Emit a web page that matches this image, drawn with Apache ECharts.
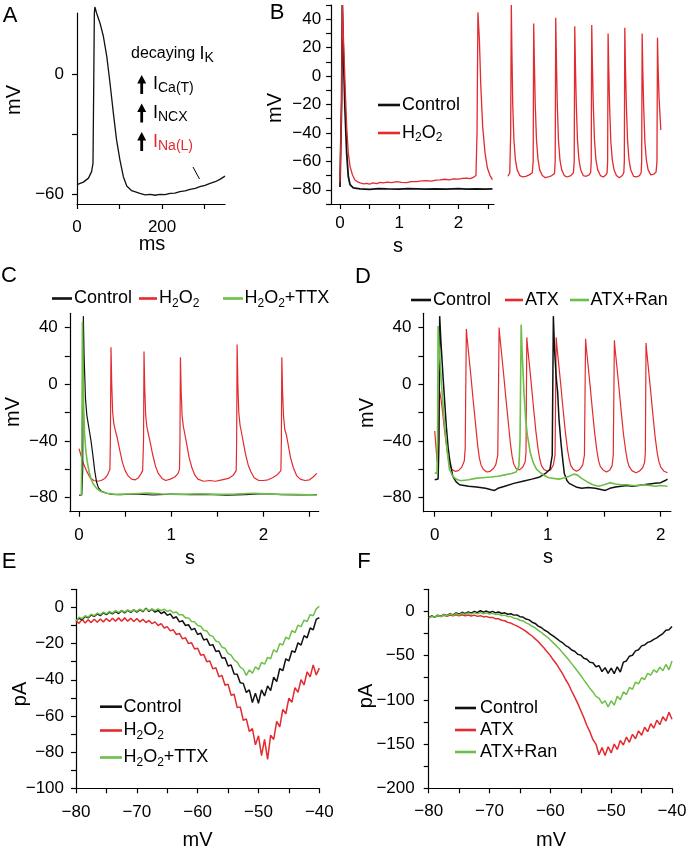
<!DOCTYPE html>
<html><head><meta charset="utf-8">
<script src="https://cdn.jsdelivr.net/npm/echarts@6/dist/echarts.min.js"></script>
<style>html,body{margin:0;padding:0;background:#fff}#c{width:686px;height:853px}</style>
</head><body><div id="c"></div>
<script>
// ---------- Panel A (ms, mV) ----------
const aTrace = [[0,-55.3],[15,-54],[27,-52],[34.5,-48.6],[37.6,-44.5],[39,-12.6],[40.8,31],[42,34],[46,31],[54,26],[62,19.3],[70,9.2],[77.6,-4.2],[85.5,-19.3],[93,-32.8],[101,-42.9],[109,-51.3],[117,-56],[128.6,-58.3],[148,-59.7],[160,-60.4],[172,-60.2],[184,-60.6],[195,-60.2],[207,-60.3],[219,-59.7],[230,-59.5],[242,-58.8],[254,-58.4],[266,-57.6],[278,-57.1],[289,-56.3],[301,-55.6],[313,-54.6],[325,-53.8],[336,-52.6],[348,-51]];
const aXLabels = [0,200], aXTicks = [0,100,200,300];
const aYLabels = [-60,0], aYTicks = [-60,-30,0];

// ---------- Panel B (s, mV) ----------
const bCtrl = [[0,-78],[0.017,-77.6],[0.028,-16.6],[0.04,50],[0.056,18.5],[0.085,-23.7],[0.113,-54],[0.14,-70.5],[0.17,-76.4],[0.225,-78.7],[0.34,-79.4],[0.5,-79.7],[0.65,-79.2],[0.8,-79.4],[1.0,-79.6],[1.15,-79.2],[1.3,-79.3],[1.45,-79.6],[1.6,-79.3],[1.8,-79.5],[2.0,-79.2],[2.15,-79.5],[2.3,-79.3],[2.45,-79.6],[2.575,-79.4]];
const bH2O2 = [[0,-74.8],[0.017,-74],[0.028,-16.6],[0.04,50],[0.056,30],[0.085,-5],[0.113,-35.4],[0.14,-54],[0.17,-63.5],[0.21,-69.4],[0.25,-72.9],[0.3,-74.5],[0.34,-75.2],[0.4,-75.9],[0.45,-75.5],[0.5,-76],[0.56,-75.2],[0.62,-75.6],[0.68,-74.8],[0.73,-75.2],[0.8,-74.6],[0.87,-75],[0.96,-74.2],[1.04,-74.8],[1.13,-74.9],[1.2,-74.3],[1.3,-74.2],[1.38,-73.8],[1.46,-73.6],[1.55,-73.9],[1.62,-73.2],[1.69,-73],[1.77,-72.6],[1.85,-73],[1.92,-72.4],[2.0,-72.5],[2.07,-72],[2.14,-71.8],[2.2,-72.1],[2.25,-71.3],[2.297,-70],[2.315,-40],[2.33,44.8],[2.355,25.5],[2.377,-5],[2.41,-35.4],[2.45,-54],[2.49,-64.7],[2.535,-70],[2.575,-72.9]];
// continuation of the H2O2 recording (local time, s)
const bCont = [[0,-70.5],[0.03,-68],[0.045,-40],[0.056,50],[0.065,20],[0.08,-20],[0.1,-45],[0.125,-59],[0.155,-66],[0.2,-70],[0.25,-71],[0.3,-70.5],[0.36,-69.5],[0.41,-68],[0.425,-60],[0.434,37],[0.445,10],[0.46,-20],[0.48,-44],[0.505,-58],[0.535,-66],[0.58,-70],[0.63,-71.5],[0.68,-71],[0.74,-70],[0.785,-68.5],[0.797,-60],[0.806,41],[0.817,12],[0.832,-20],[0.852,-45],[0.877,-59],[0.907,-66],[0.95,-70],[1.0,-71],[1.06,-70],[1.105,-68],[1.118,-60],[1.127,35],[1.138,8],[1.153,-20],[1.173,-45],[1.198,-59],[1.228,-66],[1.27,-70],[1.32,-70.5],[1.37,-69.5],[1.395,-68],[1.405,-60],[1.414,36],[1.425,8],[1.44,-20],[1.46,-45],[1.485,-59],[1.515,-66],[1.56,-70],[1.61,-71],[1.655,-69.5],[1.673,-68],[1.682,-60],[1.69,30],[1.701,5],[1.716,-22],[1.736,-46],[1.761,-59],[1.791,-66],[1.83,-70],[1.88,-71.5],[1.93,-70],[1.955,-68],[1.964,-60],[1.972,34],[1.983,6],[1.998,-20],[2.018,-45],[2.043,-59],[2.073,-66],[2.12,-70.5],[2.17,-71],[2.22,-70],[2.248,-68],[2.257,-60],[2.265,30],[2.276,4],[2.291,-22],[2.311,-46],[2.336,-59],[2.366,-66],[2.41,-69.5],[2.46,-69],[2.5,-67.5],[2.515,-60],[2.524,27],[2.535,5],[2.55,-15],[2.58,-38]];
const bXLabels = [0,1,2], bXTicks = [0,0.5,1,1.5,2,2.5];
const bYLabels = [-80,-60,-40,-20,0,20,40], bYTicks = [-90,-80,-70,-60,-50,-40,-30,-20,-10,0,10,20,30,40,50];

// ---------- Panel C (s, mV) ----------
const cCtrl = [[0,-78.5],[0.03,-78.2],[0.04,-60],[0.047,48],[0.055,20],[0.07,-10],[0.085,-22],[0.11,-32],[0.13,-40],[0.15,-50],[0.17,-61],[0.19,-69],[0.21,-73],[0.24,-75.5],[0.3,-77],[0.36,-77.8],[0.45,-78],[0.6,-77.5],[0.8,-78.2],[1.0,-77.6],[1.2,-78],[1.4,-77.8],[1.6,-78.3],[1.8,-78],[2.0,-77.2],[2.2,-78],[2.4,-78.2],[2.58,-78]];
const cH2O2 = [[0,-45.5],[0.02,-50],[0.047,-56],[0.08,-61],[0.12,-66],[0.16,-68],[0.2,-68.5],[0.24,-68],[0.28,-66.5],[0.31,-64],[0.335,-60],[0.34,-40],[0.347,26],[0.355,0],[0.365,-20],[0.378,-28],[0.395,-33],[0.415,-38],[0.44,-46],[0.47,-55],[0.5,-61],[0.53,-64.5],[0.57,-67],[0.61,-67.5],[0.645,-66],[0.67,-63.5],[0.69,-61],[0.7,-40],[0.705,23],[0.713,-3],[0.723,-22],[0.736,-30],[0.755,-36],[0.775,-42],[0.8,-50],[0.83,-58],[0.86,-63],[0.9,-66.5],[0.94,-68],[0.99,-67],[1.04,-65.5],[1.075,-63],[1.09,-60],[1.095,-40],[1.1,19],[1.108,-5],[1.118,-22],[1.132,-30],[1.15,-36],[1.17,-43],[1.195,-52],[1.225,-59],[1.255,-64],[1.29,-67],[1.35,-68.5],[1.42,-68],[1.48,-68.5],[1.55,-67.5],[1.62,-66.5],[1.67,-64.5],[1.705,-61],[1.71,-40],[1.715,28],[1.723,0],[1.733,-20],[1.747,-29],[1.765,-35],[1.785,-42],[1.805,-49],[1.835,-57],[1.865,-62],[1.9,-66],[1.95,-68],[2.0,-68],[2.05,-67.5],[2.1,-66],[2.15,-64],[2.19,-61],[2.195,-40],[2.2,19],[2.208,-5],[2.218,-22],[2.232,-32],[2.25,-36],[2.27,-43],[2.295,-52],[2.325,-59],[2.36,-64.5],[2.4,-67],[2.45,-68],[2.5,-67.5],[2.54,-65.5],[2.58,-63]];
const cTTX = [[0,-78],[0.025,-78],[0.03,-50],[0.037,44],[0.045,10],[0.05,-15],[0.06,-35],[0.075,-48],[0.09,-55],[0.11,-62],[0.13,-67],[0.155,-70.5],[0.19,-73.5],[0.23,-75.5],[0.3,-77],[0.4,-77.8],[0.6,-77.3],[0.75,-76.8],[0.9,-77.5],[1.1,-77.8],[1.3,-77.3],[1.5,-77.8],[1.7,-77.5],[1.9,-77],[2.1,-77.6],[2.3,-77.8],[2.5,-78],[2.58,-78.2]];
const cXLabels = [0,1,2], cXTicks = [0,0.5,1,1.5,2,2.5];
const cYLabels = [-80,-40,0,40], cYTicks = [-80,-60,-40,-20,0,20,40];

// ---------- Panel D (s, mV) ----------
const dCtrl = [[0,-67.5],[0.03,-67],[0.038,-40],[0.044,48],[0.055,30],[0.074,5],[0.088,-12],[0.103,-30],[0.118,-44],[0.132,-53],[0.16,-65],[0.19,-69],[0.22,-71],[0.3,-72],[0.37,-72.5],[0.45,-73.5],[0.5,-74.5],[0.53,-75],[0.56,-73.5],[0.62,-72],[0.7,-70],[0.78,-68.5],[0.86,-67],[0.93,-65.5],[0.98,-63],[1.02,-60],[1.04,-50],[1.05,48],[1.06,25],[1.075,5],[1.088,-6],[1.1,-25],[1.118,-42],[1.135,-55],[1.147,-63],[1.17,-68],[1.19,-70],[1.25,-72.5],[1.3,-73.5],[1.36,-73],[1.42,-73.5],[1.48,-74.5],[1.51,-75],[1.55,-73.5],[1.6,-72.5],[1.65,-72],[1.7,-71.5],[1.75,-72],[1.8,-71.5],[1.85,-71],[1.9,-70.5],[1.95,-70],[2.0,-69.5],[2.04,-68],[2.06,-67]];
const dATX = [[0,-33],[0.012,-45],[0.022,-55],[0.032,-35],[0.044,-5],[0.055,-10],[0.07,-20],[0.085,-31],[0.1,-41],[0.115,-50],[0.13,-56],[0.15,-60],[0.18,-61.5],[0.21,-61],[0.24,-58.5],[0.262,-54],[0.27,-45],[0.28,39],[0.286,33],[0.3,22],[0.32,6],[0.34,-11],[0.36,-27],[0.38,-43],[0.395,-52],[0.41,-57],[0.43,-60],[0.46,-62],[0.49,-61.5],[0.52,-59.5],[0.54,-57],[0.558,-50],[0.57,40],[0.576,34],[0.59,23],[0.61,7],[0.63,-10],[0.65,-26],[0.67,-42],[0.685,-51],[0.7,-56.5],[0.72,-59.5],[0.75,-60.5],[0.78,-58.5],[0.8,-55],[0.808,-48],[0.815,33],[0.821,27],[0.835,16],[0.855,0],[0.875,-17],[0.895,-33],[0.915,-46],[0.93,-53],[0.945,-57.5],[0.965,-60],[0.995,-61.5],[1.025,-60.5],[1.05,-57],[1.065,-50],[1.075,33],[1.081,27],[1.095,16],[1.115,0],[1.135,-17],[1.155,-33],[1.175,-46],[1.19,-53],[1.205,-57.5],[1.225,-60],[1.255,-61.5],[1.285,-60],[1.31,-57],[1.325,-50],[1.335,32],[1.341,26],[1.355,15],[1.375,-1],[1.395,-18],[1.415,-34],[1.435,-47],[1.45,-54],[1.465,-58],[1.49,-60.5],[1.52,-62],[1.55,-60.5],[1.57,-57.5],[1.58,-50],[1.59,31],[1.596,25],[1.61,14],[1.63,-2],[1.65,-19],[1.67,-35],[1.69,-47],[1.705,-54],[1.72,-58],[1.745,-61],[1.78,-62.5],[1.81,-61.5],[1.84,-59],[1.858,-55],[1.864,-48],[1.87,29],[1.876,23],[1.89,12],[1.91,-4],[1.93,-21],[1.95,-37],[1.97,-49],[1.985,-55],[2.0,-58.5],[2.03,-61.5],[2.06,-62.5]];
const dRan = [[0,-62.5],[0.02,-63],[0.025,-40],[0.03,41],[0.04,25],[0.06,0],[0.08,-22],[0.1,-39],[0.115,-50],[0.13,-60],[0.16,-65],[0.19,-67],[0.22,-68],[0.25,-68],[0.3,-67.5],[0.36,-66.5],[0.42,-66],[0.5,-65.5],[0.56,-65],[0.62,-64],[0.68,-63],[0.72,-62],[0.745,-58],[0.755,-40],[0.765,42],[0.775,20],[0.79,-6],[0.805,-25],[0.82,-36],[0.845,-48],[0.87,-55],[0.9,-60],[0.93,-62],[0.97,-64.5],[1.01,-66],[1.05,-66.5],[1.1,-67],[1.15,-66],[1.19,-65],[1.23,-63.5],[1.26,-64],[1.3,-66.5],[1.35,-69],[1.4,-71],[1.45,-72],[1.5,-71],[1.55,-69.5],[1.6,-70.5],[1.65,-71],[1.7,-71],[1.75,-71.5],[1.8,-71.5],[1.85,-71],[1.9,-71.5],[1.95,-72],[2.0,-71.5],[2.06,-72]];
const dXLabels = [0,1,2], dXTicks = [0,0.5,1,1.5,2];
const dYLabels = [-80,-40,0,40], dYTicks = [-80,-60,-40,-20,0,20,40];

// ---------- Panels E/F: ramp voltage (mV) and current (pA) ----------
const ivV = [-80,-79.5,-79,-78.5,-78,-77.5,-77,-76.5,-76,-75.5,-75,-74.5,-74,-73.5,-73,-72.5,-72,-71.5,-71,-70.5,-70,-69.5,-69,-68.5,-68,-67.5,-67,-66.5,-66,-65.5,-65,-64.5,-64,-63.5,-63,-62.5,-62,-61.5,-61,-60.5,-60,-59.5,-59,-58.5,-58,-57.5,-57,-56.5,-56,-55.5,-55,-54.5,-54,-53.5,-53,-52.5,-52,-51.5,-51,-50.5,-50,-49.5,-49,-48.5,-48,-47.5,-47,-46.5,-46,-45.5,-45,-44.5,-44,-43.5,-43,-42.5,-42,-41.5,-41,-40.5,-40];
const eCtrl = [-7.5,-6,-6.8,-5,-5.8,-4.2,-5,-3.6,-4.6,-3,-4,-2.6,-3.6,-2.2,-3.4,-1.8,-3,-1.6,-2.8,-1.4,-2.6,-1.2,-2.4,-0.5,-2.2,-1,-2.6,-1.6,-3.4,-2.4,-4.4,-3.6,-6,-5.2,-8,-7.4,-10,-9.6,-12.4,-11.6,-15,-14.2,-18,-17.4,-21,-20.6,-24.4,-24,-28,-27.8,-32.4,-31.8,-36.8,-37,-41.6,-42,-47,-45.6,-52.6,-47.4,-53,-45.6,-49,-43.4,-46,-38.6,-41,-33.8,-35,-28.4,-29.6,-24,-24.8,-19.6,-20.8,-15.6,-16.8,-11.4,-12.4,-6.6,-5.6];
const eH2O2 = [-7.5,-8.8,-6.6,-8.6,-6.8,-8.4,-6.6,-8.2,-6.4,-8,-6.2,-7.8,-6,-7.6,-5.8,-7.6,-5.8,-7.6,-6,-7.8,-6.2,-8,-6.6,-8.4,-7.2,-9,-8,-10,-9,-11.4,-10.6,-13,-12.4,-15,-14.4,-17.4,-16.8,-20,-19.6,-23,-22.6,-26.4,-26,-30,-29.6,-34,-33.4,-38.4,-37.6,-43,-42.4,-48.6,-48,-55.4,-55,-62.4,-61.6,-68.6,-67,-76,-71,-82,-73,-84,-70.6,-73,-63,-66,-56.4,-58.8,-50.2,-52.4,-44.4,-47,-40,-42.8,-35.6,-38.4,-31.8,-37.4,-33.6];
const eTTX = [-7.5,-5.4,-6.2,-4.6,-5.4,-3.8,-4.6,-3.2,-4,-2.6,-3.6,-2.2,-3.2,-1.8,-2.8,-1.6,-2.6,-1.4,-2.4,-1.2,-2.2,-1,-2,-0.8,-1.8,-0.8,-1.8,-0.8,-1.8,-1,-2.2,-1.6,-3,-2.6,-4.2,-4,-5.8,-5.8,-7.8,-8,-10,-10.4,-12.6,-13,-15.4,-16,-18.6,-19.2,-22,-22.6,-25.4,-26.4,-29,-30.2,-33,-34.2,-37.6,-34.6,-36.4,-32.8,-34.4,-30.4,-31.4,-27.6,-28.4,-23.4,-24.8,-20,-20.8,-16.4,-17.6,-12.8,-14,-9.8,-10.6,-7,-7.8,-4,-4.6,-0.8,0.6];
const fCtrl = [-7,-5,-6.4,-4.2,-5.6,-3.4,-4.8,-2.6,-4,-1.8,-3.2,-1,-2.6,-0.6,-2,0,-1.4,0.8,-0.8,0.4,-1.2,0,-1.6,-0.6,-2.4,-1.6,-3.2,-2.6,-4.2,-4,-6,-6.4,-8.6,-9.6,-12.2,-13.6,-16.6,-18.2,-21,-22.8,-25.6,-28,-30.4,-33.2,-35.4,-38.6,-40.4,-43.6,-45,-48.4,-49.4,-53,-54,-57.6,-58,-62.6,-61.4,-68,-63.6,-70,-64,-70.4,-62.6,-68.6,-57.4,-56,-50.6,-49.6,-44.6,-43.4,-39,-38,-35,-34,-31.6,-30,-27.4,-25,-21.4,-20.8,-17];
const fATX = [-7,-5.6,-6.4,-5,-5.8,-4.4,-5.4,-4,-5,-3.8,-5,-3.8,-5,-4,-5.2,-4.2,-5.6,-4.8,-6.2,-5.6,-7,-6.8,-8.4,-8.4,-10,-10.6,-12.4,-13.2,-15,-16.4,-18.4,-20.4,-22.6,-25.4,-27.8,-31,-34,-38,-41.6,-46,-50,-55,-59.4,-65,-70.4,-77,-82.6,-90,-97,-104,-112,-120,-129,-136,-145,-150,-162,-154,-163,-153,-160,-150,-156,-146,-151,-142,-148,-139,-144,-135,-140,-131,-136,-127,-132,-123,-128,-119,-124,-114,-122];
const fRan = [-7.6,-5.6,-6.6,-4.6,-5.8,-3.8,-5,-3,-4.4,-2.6,-4,-2,-3.4,-1.6,-3,-1.4,-2.8,-1.4,-2.8,-1.6,-3,-2.2,-3.6,-3,-4.6,-4.2,-5.8,-5.8,-7.6,-8,-10,-10.8,-13,-14.4,-16.8,-18.6,-21.4,-23.6,-26.6,-29,-32.4,-35.6,-39,-42.6,-46.6,-50.4,-54.6,-59,-63.4,-68,-72.4,-77.4,-82,-87,-91,-96,-98,-104,-101,-108,-101,-106,-96,-100,-91,-94,-86,-88,-80,-82,-75,-77,-70,-72,-66,-69,-63,-67,-60,-66,-56];
const ivXLabels = [-80,-70,-60,-50,-40], ivXTicks = [-80,-75,-70,-65,-60,-55,-50,-45,-40];
const eYLabels = [-100,-80,-60,-40,-20,0], eYTicks = [-100,-90,-80,-70,-60,-50,-40,-30,-20,-10,0,10];
const fYLabels = [-200,-150,-100,-50,0], fYTicks = [-200,-175,-150,-125,-100,-75,-50,-25,0,25];

// ---------- rendering ----------
const FONT = '"Liberation Sans", Arial, Helvetica, sans-serif';
const BLK = '#111111', RED = '#e32a2e', GRN = '#6dbf47';
const fmt = v => (v < 0 ? '\u2212' : '') + Math.abs(v);
const zipIV = ys => ivV.map((x, i) => [x, ys[i]]);

const grids = [
  {left:77, top:13, width:148, height:191},      // 0 A
  {left:331.1, top:5, width:162.8, height:199},  // 1 B
  {left:508, top:5, width:154, height:199},      // 2 B continuation
  {left:69.8, top:313.3, width:248.9, height:198.4}, // 3 C
  {left:423.4, top:313.3, width:247.5, height:198.4},// 4 D
  {left:76, top:589.3, width:243.3, height:199}, // 5 E
  {left:428.7, top:589.3, width:243.3, height:199} // 6 F
].map(g => Object.assign({containLabel:false, outerBoundsMode:'none'}, g));

function ax(gi, min, max, labels, ticks, margin){
  return {type:'value', gridIndex:gi, min, max,
    axisLine:{show:true, onZero:false, lineStyle:{color:'#000', width:1.2}},
    axisTick:{show:true, length:5, customValues:ticks, lineStyle:{color:'#000', width:1.2}},
    axisLabel:{show:true, customValues:labels, margin, color:'#000', fontSize:17, fontFamily:FONT, formatter:fmt},
    splitLine:{show:false}};
}
function hidden(gi, min, max){
  return {type:'value', gridIndex:gi, min, max, show:false, splitLine:{show:false}};
}
const xAxis = [
  ax(0, 0, 348, aXLabels, aXTicks, 15),
  ax(1, -0.15, 2.6, bXLabels, bXTicks, 11),
  hidden(2, 0, 2.6),
  ax(3, -0.1, 2.6, cXLabels, cXTicks, 15),
  ax(4, -0.1, 2.09, dXLabels, dXTicks, 15),
  ax(5, -80, -40, ivXLabels, ivXTicks, 16),
  ax(6, -80, -40, ivXLabels, ivXTicks, 15)
];
const yAxis = [
  ax(0, -65, 31, aYLabels, aYTicks, 13),
  ax(1, -90, 50, bYLabels, bYTicks, 10),
  hidden(2, -90, 50),
  ax(3, -90, 50, cYLabels, cYTicks, 12),
  ax(4, -90, 50, dYLabels, dYTicks, 12),
  ax(5, -100, 10, eYLabels, eYTicks, 12),
  ax(6, -200, 25, fYLabels, fYTicks, 14)
];
function ser(name, gi, data, color, w){
  return {type:'line', name, xAxisIndex:gi, yAxisIndex:gi, data, showSymbol:false, symbol:'none',
    clip:false, animation:false, lineStyle:{color, width:w||1.2}, itemStyle:{color}};
}
const series = [
  ser('A', 0, aTrace, BLK, 1.3),
  ser('Control', 1, bCtrl, BLK, 1.8),
  ser('H2O2', 1, bH2O2, RED, 1.3),
  ser('H2O2', 2, bCont, RED, 1.3),
  ser('H2O2', 3, cH2O2, RED, 1.2),
  ser('Control', 3, cCtrl, BLK, 1.2),
  ser('H2O2+TTX', 3, cTTX, GRN, 1.6),
  ser('ATX', 4, dATX, RED, 1.2),
  ser('Control', 4, dCtrl, BLK, 1.5),
  ser('ATX+Ran', 4, dRan, GRN, 1.6),
  ser('H2O2', 5, zipIV(eH2O2), RED, 1.5),
  ser('Control', 5, zipIV(eCtrl), BLK, 1.5),
  ser('H2O2+TTX', 5, zipIV(eTTX), GRN, 1.5),
  ser('ATX', 6, zipIV(fATX), RED, 1.5),
  ser('Control', 6, zipIV(fCtrl), BLK, 1.5),
  ser('ATX+Ran', 6, zipIV(fRan), GRN, 1.5)
];

// text helpers
const g = [];
function txt(x, y, text, size, opts){
  g.push(Object.assign({type:'text', x, y, silent:true, style:Object.assign({text, fontSize:size, fontFamily:FONT, fill:'#000',
     textAlign:'center', textVerticalAlign:'middle', align:'center', verticalAlign:'middle'}, (opts&&opts.style)||{})}, (opts&&opts.el)||{}));
}
function richTxt(x, y, text, color, main, sub, alignLeft){
  g.push({type:'text', x, y, silent:true, style:{text, fill:color, fontFamily:FONT, fontSize:main,
    textAlign: alignLeft ? 'left':'center', align: alignLeft ? 'left':'center', textVerticalAlign:'middle', verticalAlign:'middle',
    rich:{m:{fontSize:main, lineHeight:main+4, fontFamily:FONT, fill:color, color},
          d:{fontSize:16, lineHeight:main+4, fontFamily:FONT, fill:color, color},
          s:{fontSize:sub, lineHeight:sub, fontFamily:FONT, fill:color, color, verticalAlign:'bottom'}}}});
}
function legLine(x1, x2, y, color){
  g.push({type:'line', silent:true, shape:{x1, y1:y, x2, y2:y}, style:{stroke:color, lineWidth:2.6}});
}
// panel letters
[['A',10,16],['B',277,13],['C',9,276],['D',363,277],['E',9,562],['F',364,562]].forEach(p => txt(p[1], p[2], p[0], 22));
// axis names
const rot = {el:{rotation:Math.PI/2}};
txt(14.5, 100, 'mV', 20, rot); txt(152, 244, 'ms', 20);
txt(275.5, 108, 'mV', 20, rot); txt(398, 246, 's', 20);
txt(13.5, 412, 'mV', 20, rot); txt(190, 558, 's', 20);
txt(367.5, 413, 'mV', 20, rot); txt(548, 557, 's', 20);
txt(20.5, 694, 'pA', 20, rot); txt(197.5, 840, 'mV', 20);
txt(366.5, 696, 'pA', 20, rot); txt(551, 840, 'mV', 20);

// legends
legLine(378, 400, 105, BLK); richTxt(402, 105, '{m|Control}', '#000', 18, 12, true);
legLine(378, 400, 133, RED); richTxt(402, 133, '{m|H}{s|2}{m|O}{s|2}', '#000', 18, 12, true);

legLine(52, 72, 298.5, BLK); richTxt(74, 298.5, '{m|Control}', '#000', 18, 12, true);
legLine(139, 157, 298.5, RED); richTxt(159, 298.5, '{m|H}{s|2}{m|O}{s|2}', '#000', 18, 12, true);
legLine(223, 243, 298.5, GRN); richTxt(244.5, 298.5, '{m|H}{s|2}{m|O}{s|2}{m|+TTX}', '#000', 18, 12, true);

legLine(411, 431, 300, BLK); richTxt(433, 300, '{m|Control}', '#000', 18, 12, true);
legLine(505, 523, 300, RED); richTxt(525, 300, '{m|ATX}', '#000', 18, 12, true);
legLine(570, 589, 300, GRN); richTxt(590.5, 300, '{m|ATX+Ran}', '#000', 18, 12, true);

legLine(100, 122, 706.7, BLK); richTxt(123.5, 706.7, '{m|Control}', '#000', 18, 12, true);
legLine(100, 122, 730.5, RED); richTxt(123.5, 730.5, '{m|H}{s|2}{m|O}{s|2}', '#000', 18, 12, true);
legLine(100, 122, 757.5, GRN); richTxt(123.5, 757.5, '{m|H}{s|2}{m|O}{s|2}{m|+TTX}', '#000', 18, 12, true);

legLine(455, 476, 708, BLK); richTxt(480, 708, '{m|Control}', '#000', 18, 12, true);
legLine(455, 476, 730, RED); richTxt(480, 730, '{m|ATX}', '#000', 18, 12, true);
legLine(455, 476, 752, GRN); richTxt(480, 752, '{m|ATX+Ran}', '#000', 18, 12, true);

// Panel A annotations
richTxt(131, 54, '{d|decaying }{m|I}{s|K}', '#000', 18, 14, true);
richTxt(153, 84, '{m|I}{s|Ca(T)}', '#000', 18, 14, true);
richTxt(153, 113, '{m|I}{s|NCX}', '#000', 18, 14, true);
richTxt(153, 142, '{m|I}{s|Na(L)}', RED, 18, 14, true);
[85, 113.5, 142].forEach(cy => {
  g.push({type:'line', silent:true, shape:{x1:141.7, y1:cy+9, x2:141.7, y2:cy-3}, style:{stroke:'#000', lineWidth:2.8}});
  g.push({type:'polygon', silent:true, shape:{points:[[137.2,cy-1.5],[146.2,cy-1.5],[141.7,cy-10]]}, style:{fill:'#000'}});
});
g.push({type:'line', silent:true, shape:{x1:193, y1:167, x2:199.5, y2:179}, style:{stroke:'#000', lineWidth:1}});

const chart = echarts.init(document.getElementById('c'), null, {renderer:'canvas'});
chart.setOption({animation:false, backgroundColor:'#fff', grid:grids, xAxis, yAxis, series, graphic:g});
</script></body></html>
